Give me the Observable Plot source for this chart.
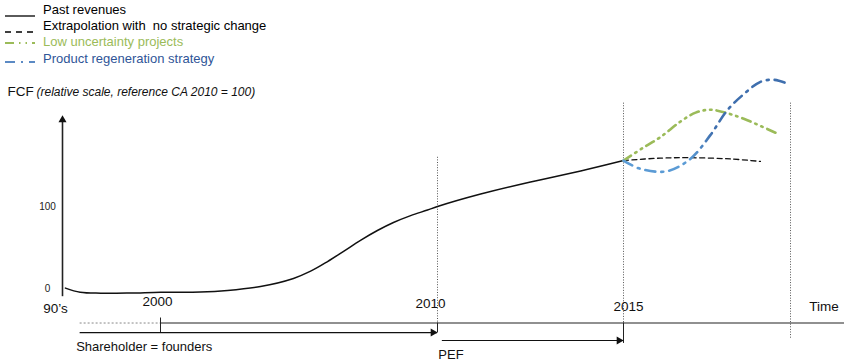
<!DOCTYPE html>
<html>
<head>
<meta charset="utf-8">
<script src="https://cdn.jsdelivr.net/npm/d3@7"></script>
<script src="https://cdn.jsdelivr.net/npm/@observablehq/plot@0.6"></script>
<style>
  html, body { margin: 0; padding: 0; background: #fff; }
  body { width: 844px; height: 364px; overflow: hidden; font-family: "Liberation Sans", Arial, sans-serif; }
  #legend { position: relative; height: 70px; font-size: 13px; }
  #legend .row { position: absolute; left: 0; height: 16px; line-height: 16px; white-space: pre; }
  #legend svg { position: absolute; left: 0; top: 0; }
  #legend span { position: absolute; left: 43px; top: 0; }
</style>
</head>
<body>
<div id="legend"></div>
<div id="chart"></div>
<script>
// Past revenues (relative scale, 2010 = 100)
const pastYear  = [1990.3, 1991.8, 1993.9, 1996.9, 2000, 2001.44, 2002.42, 2003.61, 2004.8, 2005.42, 2006.03, 2006.61, 2007.22, 2007.83, 2008.41, 2009.03, 2009.64, 2010, 2011.16, 2012.5, 2013.85, 2015];
const pastValue = [0.5, -4.5, -5.7, -5.5, -4.6, -4.3, -2.4, 2.4, 12.3, 21.1, 32.9, 45.4, 58.7, 70.7, 80.5, 88.9, 95.7, 100, 115.2, 129.9, 143.3, 156];

// Extrapolation with no strategic change
const flatYear  = [2015, 2016.1, 2017, 2018.2, 2019.1];
const flatValue = [156, 159, 159.5, 158, 155];

// Low uncertainty projects
const lowYear  = [2015, 2015.6, 2016.1, 2016.71, 2017.16, 2017.6, 2018.0, 2018.6, 2019.6];
const lowValue = [156, 172, 184.5, 203.7, 214.5, 218, 215, 207, 189];

// Product regeneration strategy
const regenYear  = [2015, 2015.5, 2016.3, 2017.0, 2017.6, 2018.1, 2018.6, 2019.1, 2019.5, 2019.9];
const regenValue = [156, 146, 143, 158, 187, 217, 237, 252, 254.5, 250];

// Axis texts
const valueTicks = [0, 100];
const timeLabels = ["90\u2019s", "2000", "2010", "2015", "Time"];
const timeLabelYears = [1990, 2000, 2010, 2015, 2021];

// Ownership periods
const periodLabels = ["Shareholder = founders", "PEF"];
const periodFrom = [1991.8, 2010.13];
const periodTo = [2010, 2015];

// Legend
const legendLabels = ["Past revenues", "Extrapolation with  no strategic change", "Low uncertainty projects", "Product regeneration strategy"];
const legendColors = ["#000000", "#000000", "#9bbb59", "#2f5597"];

// ---- styling ----
const font = "'Liberation Sans', Arial, sans-serif";
const green = "#9bbb59";
const dashes = ["", "5,3.5", "9,5,1.5,5,1.5,5", "10,6,2,6"];
const swatchColors = ["#000", "#000", "#9bbb59", "#5b8ac4"];
const swatchY = [14, 14, 9, 11];

// Legend rows
const legend = document.getElementById("legend");
legendLabels.forEach((label, i) => {
  const row = document.createElement("div");
  row.className = "row";
  row.style.top = (2 + i * 16.2) + "px";
  row.style.width = "400px";
  row.innerHTML =
    `<svg width="40" height="18"><line x1="5" x2="35" y1="${swatchY[i]}" y2="${swatchY[i]}" stroke="${swatchColors[i]}" stroke-width="${i < 2 ? 1.3 : 2}" stroke-dasharray="${i === 0 ? "" : (i === 1 ? "6,5" : dashes[i])}"/></svg>` +
    `<span style="color:${legendColors[i]}">${label}</span>`;
  legend.appendChild(row);
});

const toRows = (xs, ys) => xs.map((year, i) => ({year, value: ys[i]}));
const past = toRows(pastYear, pastValue);
const flat = toRows(flatYear, flatValue);
const low = toRows(lowYear, lowValue);
const regen = toRows(regenYear, regenValue);
const periods = periodLabels.map((label, i) => ({label, from: periodFrom[i], to: periodTo[i], level: i === 0 ? -53.7 : -63.4}));
const timeTexts = timeLabels.map((label, i) => ({label, year: timeLabelYears[i]}));
// small per-label nudges of the time labels
const timeDx = [-7, -3, -7, 5, 0];
const timeDy = [4, -3, -1.5, 2, 2];

const axisLevel = -42.1;   // the horizontal time axis
const guides = [
  {year: 2010, top: 160, bottom: axisLevel},
  {year: 2015, top: 226, bottom: axisLevel},
  {year: 2020, top: 226, bottom: -61}
];
const ticks = [
  {year: 2000, top: -36, bottom: -53.7},
  {year: 2010, top: axisLevel, bottom: -54},
  {year: 2015, top: axisLevel, bottom: -67}
];

const chart = Plot.plot({
  width: 844,
  height: 294,
  marginTop: 0, marginRight: 0, marginBottom: 0, marginLeft: 0,
  style: {fontFamily: font, background: "#fff", color: "#000", overflow: "visible"},
  x: {type: "linear", domain: [1990, 2000, 2010, 2015, 2020], range: [62, 160, 437, 623, 790], axis: null},
  y: {type: "linear", domain: [0, 100], range: [218, 136], axis: null},
  marks: [
    // y axis with arrow head
    Plot.ruleX([1990], {y1: -10, y2: 207, stroke: "#222", strokeWidth: 1.6}),
    Plot.dot([{year: 1990, value: 211}], {x: "year", y: "value", symbol: "triangle", r: 3, fill: "#111", stroke: "none", dy: 4.5}),
    Plot.text(valueTicks, {x: () => 1990, y: d => d, text: d => String(d), dx: -15, fontSize: 10, fill: "#222"}),
    Plot.text(["FCF"], {frameAnchor: "top-left", dx: 7, dy: 21, lineAnchor: "middle", textAnchor: "start", fontSize: 13.5, fill: "#111"}),
    Plot.text(["(relative scale, reference CA 2010 = 100)"], {frameAnchor: "top-left", dx: 36, dy: 22, lineAnchor: "middle", textAnchor: "start", fontSize: 12, fontStyle: "italic", fill: "#111"}),

    // dotted period guides
    Plot.ruleX(guides, {x: "year", y1: "top", y2: "bottom", stroke: "#555", strokeWidth: 1, strokeDasharray: "1,1.6"}),
    Plot.ruleX(ticks, {x: "year", y1: "top", y2: "bottom", stroke: "#222", strokeWidth: 1}),

    // time axis
    Plot.ruleY([axisLevel], {x1: 1991.8, x2: 2000, stroke: "#555", strokeWidth: 0.7, strokeDasharray: "2,2"}),
    Plot.ruleY([axisLevel], {x1: 2000, x2: 2021.7, stroke: "#222", strokeWidth: 1.2}),
    ...timeTexts.map((t, i) =>
      Plot.text([t], {x: "year", y: () => -20, text: "label", dx: timeDx[i], dy: timeDy[i], fontSize: 13.5, fill: "#111"})
    ),

    // ownership periods
    Plot.ruleY(periods, {y: "level", x1: "from", x2: "to", stroke: "#111", strokeWidth: 1.2}),
    Plot.dot(periods, {x: "to", y: "level", symbol: "triangle", rotate: 90, r: 3, fill: "#111", stroke: "none", dx: -4.5}),
    Plot.text(periods, {x: "from", y: "level", text: "label", textAnchor: "start", dx: -4, dy: 14, fontSize: 13, fill: "#111"}),

    // revenue curves
    Plot.line(past, {x: "year", y: "value", curve: "catmull-rom", stroke: "#111", strokeWidth: 1.5}),
    Plot.line(flat, {x: "year", y: "value", curve: "catmull-rom", stroke: "#111", strokeWidth: 1.3, strokeDasharray: dashes[1]}),
    Plot.line(low, {x: "year", y: "value", curve: "catmull-rom", stroke: green, strokeWidth: 2.6, strokeDasharray: dashes[2]}),
    Plot.line(regen, {x: "year", y: "value", curve: "catmull-rom", stroke: "url(#regen-fade)", strokeWidth: 2.6, strokeDasharray: dashes[3]})
  ]
});

// colour fade for the regeneration curve: light blue at the start, darker blue as it climbs
const defs = d3.select(chart).insert("defs", ":first-child");
const grad = defs.append("linearGradient").attr("id", "regen-fade").attr("x1", 0).attr("x2", 1).attr("y1", 0).attr("y2", 0);
grad.append("stop").attr("offset", "0%").attr("stop-color", "#5b9bd5");
grad.append("stop").attr("offset", "40%").attr("stop-color", "#5b9bd5");
grad.append("stop").attr("offset", "55%").attr("stop-color", "#3f6fae");
grad.append("stop").attr("offset", "100%").attr("stop-color", "#3f6fae");

document.getElementById("chart").appendChild(chart);
</script>
</body>
</html>
